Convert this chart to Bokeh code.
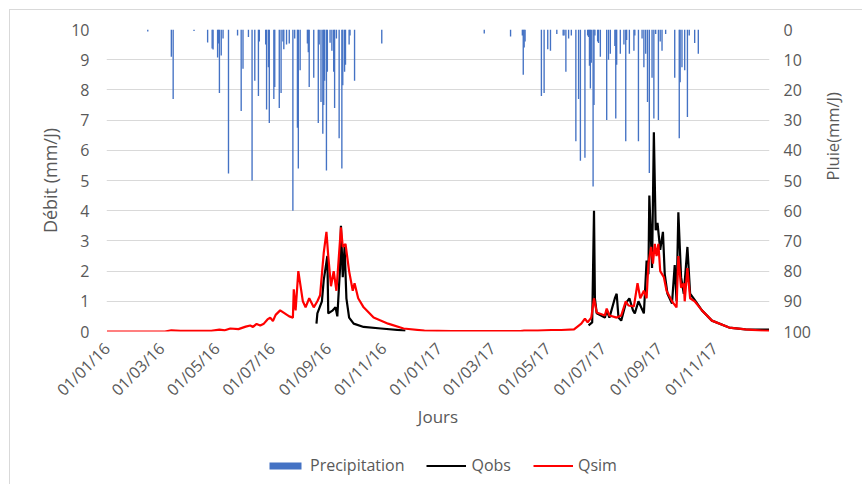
import math
import pandas as pd
from bokeh.plotting import figure
from bokeh.layouts import column
from bokeh.models import (Range1d, LinearAxis, FixedTicker, DatetimeTickFormatter,
                          Legend, LegendItem, ColumnDataSource, InlineStyleSheet)
from bokeh.embed import file_html
from bokeh.resources import INLINE

# ---------------- data ----------------
tick_dates = ["2016-01-01", "2016-03-01", "2016-05-01", "2016-07-01", "2016-09-01",
              "2016-11-01", "2017-01-01", "2017-03-01", "2017-05-01", "2017-07-01",
              "2017-09-01", "2017-11-01"]

debit_ticks = [0, 1, 2, 3, 4, 5, 6, 7, 8, 9, 10]
pluie_ticks = [0, 10, 20, 30, 40, 50, 60, 70, 80, 90, 100]

rain_dates = [
    "2016-02-15", "2016-03-12", "2016-03-14", "2016-04-06", "2016-04-21", "2016-04-26",
    "2016-04-27", "2016-05-02", "2016-05-03", "2016-05-04", "2016-05-06", "2016-05-08",
    "2016-05-14", "2016-05-24", "2016-05-28", "2016-05-30", "2016-06-05", "2016-06-09",
    "2016-06-12", "2016-06-16", "2016-06-17", "2016-06-24", "2016-06-25", "2016-06-27",
    "2016-06-28", "2016-07-03", "2016-07-04", "2016-07-09", "2016-07-11", "2016-07-13",
    "2016-07-14", "2016-07-17", "2016-07-20", "2016-07-24", "2016-07-26", "2016-07-29",
    "2016-07-30", "2016-08-01", "2016-08-09", "2016-08-10", "2016-08-11", "2016-08-16",
    "2016-08-21", "2016-08-22", "2016-08-24", "2016-08-26", "2016-08-27", "2016-08-28",
    "2016-08-30", "2016-08-31", "2016-09-03", "2016-09-05", "2016-09-07", "2016-09-08",
    "2016-09-10", "2016-09-13", "2016-09-16", "2016-09-17", "2016-09-19", "2016-09-20",
    "2016-09-24", "2016-09-25", "2016-09-30", "2016-10-30",
    "2017-02-20", "2017-03-21", "2017-04-03", "2017-04-04", "2017-04-05", "2017-04-06",
    "2017-04-24", "2017-04-27", "2017-05-01", "2017-05-04", "2017-05-11", "2017-05-18",
    "2017-05-19", "2017-05-21", "2017-05-24", "2017-05-27", "2017-06-01", "2017-06-04",
    "2017-06-06", "2017-06-11", "2017-06-14", "2017-06-15", "2017-06-16", "2017-06-17",
    "2017-06-18", "2017-06-20", "2017-06-21", "2017-06-22", "2017-06-25", "2017-06-26",
    "2017-06-28", "2017-07-05", "2017-07-07", "2017-07-09", "2017-07-14", "2017-07-15",
    "2017-07-16", "2017-07-20", "2017-07-24", "2017-07-26", "2017-07-27", "2017-07-30",
    "2017-08-04", "2017-08-05", "2017-08-09", "2017-08-13", "2017-08-15", "2017-08-17",
    "2017-08-19", "2017-08-21", "2017-08-24", "2017-08-26", "2017-08-28", "2017-08-31",
    "2017-09-02", "2017-09-04", "2017-09-08", "2017-09-18", "2017-09-23", "2017-09-24",
    "2017-09-26", "2017-09-29", "2017-10-02", "2017-10-04", "2017-10-10", "2017-10-14",
]
rain_vals = [
    0.7, 9, 23, 0.5, 4.3, 6.3,
    6.6, 9.3, 4.6, 21, 8.6, 3,
    47.7, 2, 27, 13, 2.5, 50,
    17, 22, 4, 5, 26.5, 12.5,
    31, 23, 19, 26, 21, 4,
    6.5, 5, 4.6, 60, 3, 32.5,
    46, 13.5, 4.6, 7.5, 19, 16,
    31, 5, 24, 34.5, 25, 17,
    46.7, 14, 4.4, 7, 14, 26,
    3, 36, 46, 18.5, 14, 11.7,
    5, 2, 17, 4.6,
    1.3, 2.3, 2, 15, 6, 4,
    22, 21, 6.5, 7, 1.5, 2,
    2, 14, 3, 2, 37, 23,
    43.5, 42.5, 2, 2.5, 12, 19.5,
    11, 52, 25, 2, 4, 4.5,
    9, 30, 10, 8, 5.5, 29.5,
    11.7, 8, 5, 37, 3.5, 8,
    7, 2, 37, 3, 12.5, 8,
    24, 47.5, 16, 29.5, 1.5, 30,
    4, 7, 1.5, 16, 36, 17.5,
    12.5, 13.5, 29, 2, 4.5, 8,
]

qsim_dates = [
    "2016-01-01", "2016-03-05", "2016-03-12", "2016-03-22", "2016-04-25", "2016-05-04",
    "2016-05-10", "2016-05-16", "2016-05-25", "2016-06-02", "2016-06-07", "2016-06-10",
    "2016-06-14", "2016-06-18", "2016-06-22", "2016-06-26", "2016-06-29", "2016-07-02",
    "2016-07-05", "2016-07-10", "2016-07-15", "2016-07-20", "2016-07-24", "2016-07-25",
    "2016-07-27", "2016-07-30", "2016-08-04", "2016-08-07", "2016-08-11", "2016-08-16",
    "2016-08-20", "2016-08-23", "2016-08-27", "2016-08-30", "2016-09-01", "2016-09-04",
    "2016-09-07", "2016-09-10", "2016-09-15", "2016-09-17", "2016-09-20", "2016-09-24",
    "2016-09-28", "2016-09-30", "2016-10-04", "2016-10-10", "2016-10-21", "2016-11-06",
    "2016-11-23", "2016-12-16", "2017-01-15", "2017-04-01", "2017-04-05", "2017-04-20",
    "2017-05-05", "2017-05-16", "2017-05-30", "2017-06-07", "2017-06-11", "2017-06-14",
    "2017-06-18", "2017-06-21", "2017-06-24", "2017-07-03", "2017-07-05", "2017-07-08",
    "2017-07-16", "2017-07-21", "2017-07-26", "2017-07-29", "2017-08-04", "2017-08-08",
    "2017-08-11", "2017-08-15", "2017-08-18", "2017-08-20", "2017-08-23", "2017-08-25",
    "2017-08-27", "2017-08-29", "2017-08-31", "2017-09-02", "2017-09-06", "2017-09-09",
    "2017-09-15", "2017-09-20", "2017-09-22", "2017-09-25", "2017-09-28", "2017-09-29",
    "2017-10-02", "2017-10-05", "2017-10-10", "2017-10-18", "2017-10-29", "2017-11-17",
    "2017-12-05", "2017-12-23", "2017-12-31",
]
qsim_vals = [
    0.0, 0.0, 0.04, 0.02, 0.02, 0.06,
    0.04, 0.1, 0.08, 0.16, 0.2, 0.15,
    0.25, 0.2, 0.26, 0.4, 0.46, 0.35,
    0.55, 0.7, 0.6, 0.5, 0.46, 1.4,
    0.7, 2.0, 1.0, 0.8, 1.1, 0.8,
    1.0, 1.2, 2.6, 3.3, 2.5, 1.5,
    2.0, 1.35, 3.45, 2.8, 2.9, 2.0,
    1.35, 1.6, 1.1, 0.8, 0.46, 0.26,
    0.1, 0.03, 0.01, 0.01, 0.03, 0.03,
    0.05, 0.05, 0.07, 0.26, 0.43, 0.3,
    0.46, 1.1, 0.63, 0.53, 0.76, 0.53,
    0.46, 0.53, 1.0, 0.86, 0.83, 1.6,
    1.1, 1.35, 1.1, 2.25, 2.8, 2.25,
    2.9, 2.5, 2.9, 2.0, 1.8, 1.35,
    1.0, 0.8, 2.5, 1.45, 1.6, 1.0,
    2.1, 1.1, 1.0, 0.7, 0.36, 0.13,
    0.07, 0.03, 0.02,
]

nan = float("nan")
qobs_dates = [
    "2016-08-19", "2016-08-20", "2016-08-25", "2016-08-27", "2016-08-29", "2016-08-31",
    "2016-09-01", "2016-09-06", "2016-09-09", "2016-09-11", "2016-09-14", "2016-09-15",
    "2016-09-17", "2016-09-19", "2016-09-21", "2016-09-24", "2016-09-29", "2016-10-10",
    "2016-10-29", "2016-11-25", "2017-01-01",
    "2017-06-15", "2017-06-19", "2017-06-21", "2017-06-22", "2017-06-24", "2017-07-03",
    "2017-07-05", "2017-07-08", "2017-07-14", "2017-07-16", "2017-07-18", "2017-07-21",
    "2017-07-26", "2017-07-30", "2017-08-03", "2017-08-05", "2017-08-09", "2017-08-15",
    "2017-08-18", "2017-08-20", "2017-08-21", "2017-08-24", "2017-08-26", "2017-08-28",
    "2017-08-30", "2017-09-02", "2017-09-05", "2017-09-07", "2017-09-10", "2017-09-15",
    "2017-09-18", "2017-09-20", "2017-09-22", "2017-09-25", "2017-09-28", "2017-10-02",
    "2017-10-05", "2017-10-10", "2017-10-18", "2017-10-29", "2017-11-17", "2017-12-05",
    "2017-12-31",
]
qobs_vals = [
    0.26, 0.6, 1.0, 1.7, 2.1, 2.5,
    0.6, 0.7, 0.8, 0.5, 2.1, 3.5,
    1.8, 2.8, 1.1, 0.46, 0.26, 0.15,
    0.1, 0.03, nan,
    0.2, 0.3, 4.0, 1.1, 0.6, 0.46,
    0.7, 0.46, 1.1, 1.25, 0.46, 0.36,
    0.93, 1.1, 0.7, 0.6, 1.0, 0.6,
    2.35, 1.9, 4.5, 2.1, 6.6, 3.35,
    3.6, 2.7, 3.3, 1.9, 1.25, 0.93,
    2.2, 1.0, 3.95, 1.8, 1.25, 2.8,
    1.25, 1.05, 0.7, 0.36, 0.13, 0.07,
    0.06,
]

legend_labels = ["Precipitation", "Qobs", "Qsim"]

# ---------------- styles ----------------
GREY = "#595959"
FONT = "Open Sans"
BLUE = "#4472C4"
DAY_MS = 86400000

rain_src = ColumnDataSource(dict(x=pd.to_datetime(rain_dates), top=rain_vals))
obs_src = ColumnDataSource(dict(x=pd.to_datetime(qobs_dates), y=qobs_vals))
sim_src = ColumnDataSource(dict(x=pd.to_datetime(qsim_dates), y=qsim_vals))

# ---------------- main chart ----------------
x_start = pd.Timestamp("2015-12-31 12:00")
x_end = pd.Timestamp("2017-12-31 12:00")
p = figure(width=862, height=431, x_axis_type="datetime",
           output_backend="svg", toolbar_location=None,
           x_range=Range1d(x_start, x_end), y_range=Range1d(0, 10),
           min_border_left=106, min_border_right=93, min_border_top=29, min_border_bottom=100)
p.outline_line_color = None
p.background_fill_color = "white"
p.border_fill_color = "white"
p.stylesheets = [InlineStyleSheet(css=(
    ":host::after { content: ''; position: absolute; left: 9px; top: 9px; right: 0; bottom: 0;"
    " border-left: 1px solid #D9D9D9; border-top: 1px solid #D9D9D9;"
    " pointer-events: none; box-sizing: border-box; }"))]

p.extra_y_ranges = {"rain": Range1d(100, 0)}

p.vbar(x="x", top="top", bottom=0, width=1.5 * DAY_MS, source=rain_src,
       y_range_name="rain", fill_color=BLUE, line_color=None)
p.line("x", "y", source=obs_src, line_color="black", line_width=2.2)
p.line("x", "y", source=sim_src, line_color="#FF0000", line_width=2.2)

p.xgrid.visible = False
p.ygrid.ticker = FixedTicker(ticks=debit_ticks)
p.ygrid.grid_line_color = "#D9D9D9"
p.ygrid.grid_line_width = 1


def style_axis(ax, title_size="17px"):
    ax.axis_line_color = None
    ax.major_tick_line_color = None
    ax.minor_tick_line_color = None
    ax.major_label_text_color = GREY
    ax.major_label_text_font = FONT
    ax.major_label_text_font_size = "16px"
    ax.axis_label_text_color = GREY
    ax.axis_label_text_font = FONT
    ax.axis_label_text_font_size = title_size
    ax.axis_label_text_font_style = "normal"


xax = p.xaxis[0]
style_axis(xax)
xax.ticker = FixedTicker(ticks=[pd.Timestamp(d).value / 1e6 for d in tick_dates])
fmt = "%d/%m/%y"
xax.formatter = DatetimeTickFormatter(milliseconds=fmt, seconds=fmt, minsec=fmt, minutes=fmt,
                                      hourmin=fmt, hours=fmt, days=fmt, months=fmt, years=fmt)
xax.major_label_orientation = math.pi / 4
xax.major_label_standoff = 8
xax.axis_label = "Jours"
xax.axis_label_standoff = -6

yax = p.yaxis[0]
style_axis(yax, "18px")
yax.ticker = FixedTicker(ticks=debit_ticks)
yax.major_label_standoff = 11
yax.axis_label = "Débit (mm/J)"
yax.axis_label_standoff = 6

rax = LinearAxis(y_range_name="rain", ticker=FixedTicker(ticks=pluie_ticks))
style_axis(rax, "16.5px")
rax.major_label_standoff = 8
rax.axis_label = "Pluie(mm/J)"
rax.axis_label_standoff = 19
if hasattr(rax, "axis_label_orientation"):
    rax.axis_label_orientation = math.pi / 2
p.add_layout(rax, "right")

# ---------------- legend strip ----------------
# Same data sources; this strip's y range lies above all values, so the marks are
# clipped away and only the legend shows.
pl = figure(width=862, height=53, x_axis_type=None, y_axis_type=None,
            output_backend="svg", toolbar_location=None,
            x_range=Range1d(x_start, x_end), y_range=Range1d(100, 200),
            min_border_left=0, min_border_right=0, min_border_top=0, min_border_bottom=0)
pl.outline_line_color = None
pl.background_fill_color = "white"
pl.border_fill_color = "white"
pl.stylesheets = [InlineStyleSheet(css=(
    ":host::after { content: ''; position: absolute; left: 9px; top: 0; right: 0; bottom: 0;"
    " border-left: 1px solid #D9D9D9; pointer-events: none; box-sizing: border-box; }"))]

k_bar = pl.vbar(x="x", top="top", bottom=0, width=1.5 * DAY_MS, source=rain_src,
                fill_color=BLUE, line_color=None)
k_obs = pl.line("x", "y", source=obs_src, line_color="black", line_width=2.2)
k_sim = pl.line("x", "y", source=sim_src, line_color="#FF0000", line_width=2.2)

legend = Legend(items=[LegendItem(label=legend_labels[0], renderers=[k_bar]),
                       LegendItem(label=legend_labels[1], renderers=[k_obs]),
                       LegendItem(label=legend_labels[2], renderers=[k_sim])],
                orientation="horizontal", location=(159, 8),
                label_text_font=FONT, label_text_font_size="16px", label_text_color=GREY,
                glyph_width=40, glyph_height=9, spacing=22, label_standoff=5,
                padding=0, margin=0, border_line_color=None, background_fill_alpha=0)
pl.add_layout(legend)

layout = column(p, pl, spacing=0)
open("out.html", "w").write(file_html(layout, INLINE))
